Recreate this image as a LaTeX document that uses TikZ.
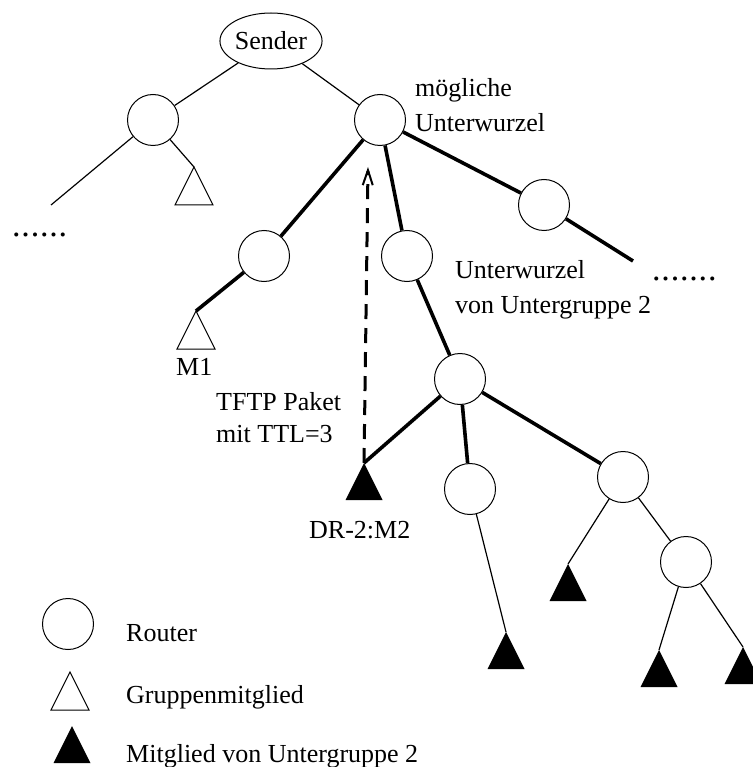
\documentclass[tikz,border=0pt]{standalone}
\usepackage{fontspec}
\setmainfont{Liberation Serif}
\usetikzlibrary{shapes.geometric,arrows.meta}
% a row of widely spaced dots
\newcommand\dotrow[1]{{\fontsize{34}{35}\selectfont\foreach \i in {1,...,#1}{.\kern0.8pt}}}
\begin{document}
\begin{tikzpicture}[x=1pt,y=-1pt,
  router/.style={circle,draw,line width=1pt,minimum size=51pt,inner sep=0pt},
  sendernode/.style={ellipse,draw,line width=1pt,minimum width=102pt,minimum height=56pt,inner sep=0pt},
  thinlink/.style={line width=1.2pt},
  thicklink/.style={line width=3.6pt},
  openmember/.style={draw,line width=1pt,fill=white,line join=miter},
  submember/.style={fill=black},
  txt/.style={anchor=base west,inner sep=0pt},
  font=\fontsize{26}{35}\selectfont]
\useasboundingbox (0,0) rectangle (752,767);

% routers and the sender
\node[sendernode] (sender) at (271,41) {Sender};
\node[router] (rl) at (153,120) {};
\node[router] (rr) at (380,120) {};
\node[router] (ra) at (264,256) {};
\node[router] (rb) at (407,256) {};
\node[router] (rc) at (544,205) {};
\node[router] (rd) at (460,379) {};
\node[router] (re) at (470,489) {};
\node[router] (rf) at (623,477) {};
\node[router] (rg) at (686,562) {};

% apexes of the member triangles
\coordinate (t1) at (194,167);
\coordinate (m1) at (196,311);
\coordinate (m2) at (364,463);
\coordinate (f1) at (506,632);
\coordinate (f2) at (568,564);
\coordinate (f3) at (659,650);
\coordinate (f4) at (743,647);

% loose ends and the arrow tip
\coordinate (lfree) at (51,205);
\coordinate (rfree) at (633,261);
\coordinate (tip) at (368,167);

% plain tree links
\draw[thinlink] (sender) -- (rl);
\draw[thinlink] (sender) -- (rr);
\draw[thinlink] (rl) -- (lfree);
\draw[thinlink] (rl) -- (t1);
\draw[thinlink] (re) -- (f1);
\draw[thinlink] (rf) -- (f2);
\draw[thinlink] (rf) -- (rg);
\draw[thinlink] (rg) -- (f3);
\draw[thinlink] (rg) -- (f4);

% links below the possible subroot
\draw[thicklink] (rr) -- (ra);
\draw[thicklink] (ra) -- (m1);
\draw[thicklink] (rr) -- (rb);
\draw[thicklink] (rr) -- (rc);
\draw[thicklink] (rc) -- (rfree);
\draw[thicklink] (rb) -- (rd);
\draw[thicklink] (rd) -- (m2);
\draw[thicklink] (rd) -- (re);
\draw[thicklink] (rd) -- (rf);

% TFTP packet travelling upwards
\draw[line width=3pt,dash pattern=on 15pt off 9pt,
  -{Straight Barb[length=15pt,width=10pt,line width=2pt]}] (m2) -- (tip);

% members
\draw[openmember] (t1) -- ++(-19,38) -- ++(38,0) -- cycle;
\draw[openmember] (m1) -- ++(-19,38) -- ++(38,0) -- cycle;
\foreach \p in {m2,f1,f2,f3,f4}
  \fill[submember] (\p) -- ++(-18.5,37) -- ++(37,0) -- cycle;

% labels
\node[txt] (lbla) at (415,97) {mögliche};
\node[txt] (lblb) at (415,132) {Unterwurzel};
\node[txt] (lblc) at (455,278) {Unterwurzel};
\node[txt] (lbld) at (455,313) {von Untergruppe 2};
\node[txt] (lblm1) at (176,375) {M1};
\node[txt] (lble) at (216,410) {TFTP Paket};
\node[txt] (lblf) at (216,442) {mit TTL=3};
\node[txt] (lblm2) at (309,538) {DR-2:M2};
\node[txt] (dotsl) at (12,236) {\dotrow{6}};
\node[txt] (dotsr) at (652,280) {\dotrow{7}};

% legend
\node[router] (legrouter) at (68,624) {};
\coordinate (legopen) at (70,672);
\coordinate (legfull) at (72,726);
\draw[openmember] (legopen) -- ++(-19,38) -- ++(38,0) -- cycle;
\fill[submember] (legfull) -- ++(-18.5,37) -- ++(37,0) -- cycle;
\node[txt] (legt1) at (126,641) {Router};
\node[txt] (legt2) at (126,703) {Gruppenmitglied};
\node[txt] (legt3) at (126,762) {Mitglied von Untergruppe 2};
\end{tikzpicture}
\end{document}
